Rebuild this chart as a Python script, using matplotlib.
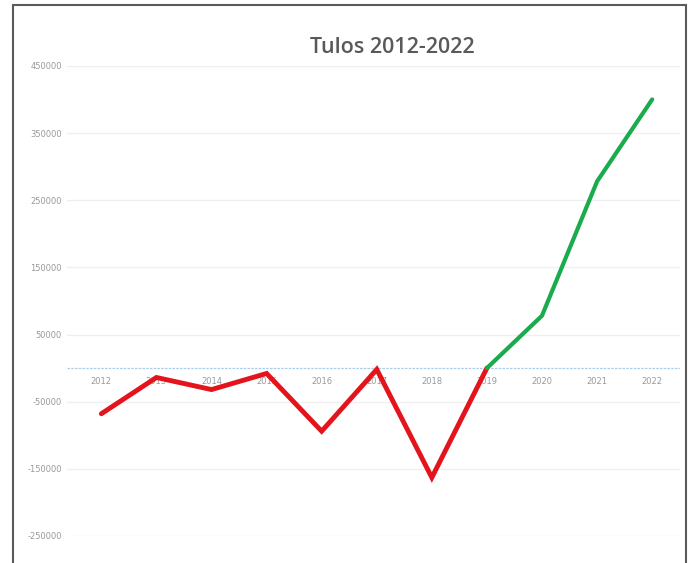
import matplotlib.pyplot as plt
from matplotlib.patches import Rectangle

years = ["2012", "2013", "2014", "2015", "2016", "2017", "2018", "2019", "2020", "2021", "2022"]
tulos = [-68000, -14000, -32000, -8000, -94000, -2000, -163000, 0, 78000, 278000, 400000]
y_ticks = [-250000, -150000, -50000, 50000, 150000, 250000, 350000, 450000]
split = 7  # index of 2019, where the line turns green

fig = plt.figure(figsize=(7, 5.63), dpi=100)
ax = fig.add_axes([0.096, 0.048, 0.875, 0.835])

x = list(range(len(years)))

# gridlines
for t in y_ticks:
    ax.axhline(t, color="#efefef", lw=0.9, zorder=0)
ax.axhline(0, color="#a9cce8", lw=0.9, ls=(0, (2, 1)), zorder=1)

ax.plot(x[:split + 1], tulos[:split + 1], color="#e3141c", lw=3.5,
        solid_capstyle="round", solid_joinstyle="miter", zorder=3)
ax.plot(x[split:], tulos[split:], color="#19ab4c", lw=3.0,
        solid_capstyle="round", zorder=3)

# category labels sit just under the zero line
for i, yr in enumerate(years):
    ax.text(i, -20000, yr, ha="center", va="center", fontsize=6,
            color="#999999", zorder=2)

ax.set_xlim(-0.62, 10.5)
ax.set_ylim(-250000, 450000)
ax.set_yticks(y_ticks)
ax.set_yticklabels([str(t) for t in y_ticks], fontsize=6, color="#999999")
ax.tick_params(axis="y", length=0, pad=4)
ax.set_xticks([])
for s in ax.spines.values():
    s.set_visible(False)

fig.text(0.561, 0.915, "Tulos 2012-2022", ha="center", va="center",
         fontsize=15.5, color="#595959", family="Open Sans", fontweight="semibold")

# outer frame of the pasted chart
fig.patches.append(Rectangle((13 / 700, -0.05), (686 - 13) / 700, 1.05 - 5 / 563,
                             transform=fig.transFigure, fill=False,
                             edgecolor="#5a5a5a", lw=1.5))

fig.savefig("out.png", dpi=100)
